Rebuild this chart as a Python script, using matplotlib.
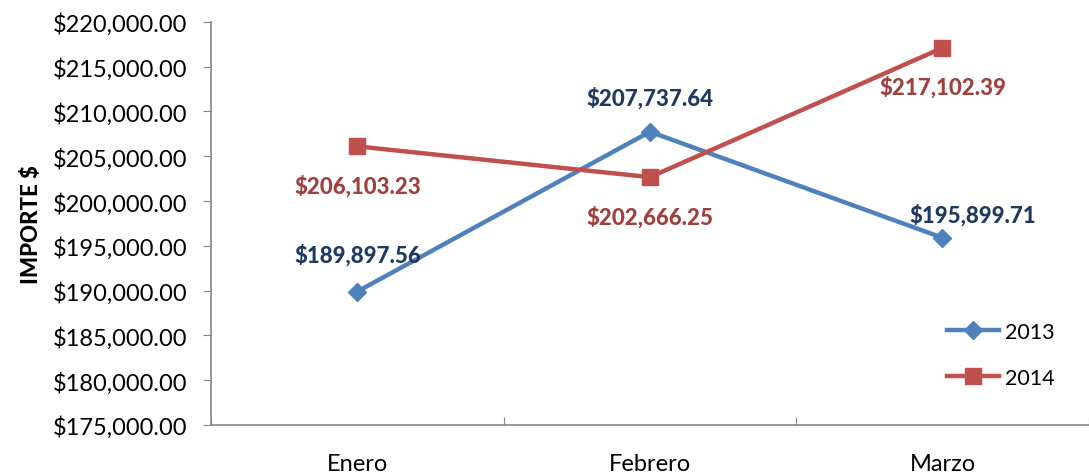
import matplotlib.pyplot as plt
from matplotlib.ticker import FuncFormatter

meses = ["Enero", "Febrero", "Marzo"]
v2013 = [189897.56, 207737.64, 195899.71]
v2014 = [206103.23, 202666.25, 217102.39]

plt.rcParams['font.family'] = ['Lato', 'DejaVu Sans']

fig = plt.figure(figsize=(10.89, 4.77), dpi=100)
ax = fig.add_axes([0.1938, 0.107, 0.806, 0.845])

x = range(len(meses))
azul = "#4F81BD"
rojo = "#C0504D"
ax.plot(x, v2013, color=azul, lw=3.2, marker="D", ms=9, label="2013", zorder=3)
ax.plot(x, v2014, color=rojo, lw=3.2, marker="s", ms=12, label="2014", zorder=3)

# etiquetas de datos
off13 = [(0, 27), (0, 25), (22, 17)]
for i, v in enumerate(v2013):
    ax.annotate("${:,.2f}".format(v), (i, v), xytext=off13[i], textcoords="offset points",
                ha="center", va="center", fontsize=16, fontweight=900, color="#1F3A5F")
for i, v in enumerate(v2014):
    ax.annotate("${:,.2f}".format(v), (i, v), xytext=(0, -28), textcoords="offset points",
                ha="center", va="center", fontsize=16, fontweight=900, color="#A0403D")

ax.set_xlim(-0.5, 2.5)
ax.set_ylim(175000, 220000)
ax.set_yticks(range(175000, 220001, 5000))
ax.yaxis.set_major_formatter(FuncFormatter(lambda v, p: "${:,.2f}".format(v)))
ax.set_xticks([-0.5, 0.5, 1.5, 2.5])
ax.set_xticklabels([])
ax.set_xticks(list(x), minor=True)
ax.set_xticklabels(meses, minor=True)
ax.tick_params(axis="x", which="minor", length=0, pad=20, labelsize=17)
ax.tick_params(axis="x", which="major", length=6, direction="in", color="#868686")
ax.tick_params(axis="y", length=6, direction="out", color="#868686", labelsize=17, pad=11)
for s in ["top", "right"]:
    ax.spines[s].set_visible(False)
for s in ["left", "bottom"]:
    ax.spines[s].set_color("#868686")
    ax.spines[s].set_linewidth(1.2)

ax.set_ylabel("IMPORTE $", fontsize=16, fontweight=900, labelpad=8)

ax.legend(loc="lower right", bbox_to_anchor=(0.976, 0.06), frameon=False, fontsize=15.5,
          handlelength=2.4, handletextpad=0.3, labelspacing=1.2, borderaxespad=0.2)

fig.savefig("out.png", dpi=100)
